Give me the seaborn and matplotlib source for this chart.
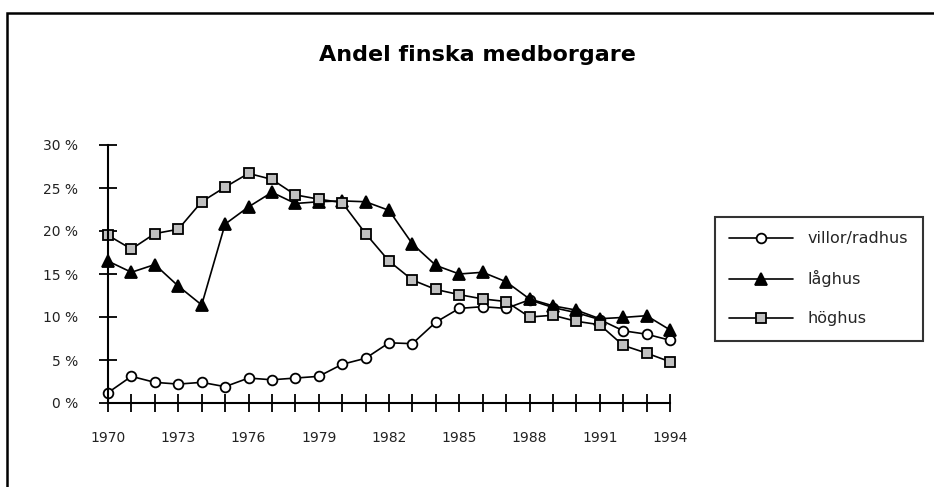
import matplotlib
matplotlib.use('AGG')
import matplotlib.pyplot as plt
import seaborn as sns
import pandas as pd
from matplotlib.patches import Rectangle

# values (percent)
years = list(range(1970, 1995))
villor = [1.2, 3.1, 2.4, 2.2, 2.4, 1.9, 2.9, 2.7, 2.9, 3.1, 4.5, 5.2, 7.0,
          6.9, 9.4, 11.0, 11.2, 11.0, 12.0, 11.1, 10.5, 9.7, 8.4, 8.0, 7.3]
laghus = [16.5, 15.2, 16.1, 13.6, 11.4, 20.8, 22.8, 24.5, 23.2, 23.4, 23.5, 23.4, 22.4,
          18.5, 16.0, 15.0, 15.2, 14.1, 12.1, 11.3, 10.8, 9.8, 9.95, 10.15, 8.5]
hoghus = [19.5, 17.9, 19.7, 20.2, 23.4, 25.1, 26.7, 26.0, 24.2, 23.7, 23.3, 19.7, 16.5,
          14.3, 13.2, 12.6, 12.1, 11.8, 10.0, 10.2, 9.5, 9.1, 6.7, 5.8, 4.8]
series_names = ['villor/radhus', 'låghus', 'höghus']
y_ticks = [0, 5, 10, 15, 20, 25, 30]
x_label_years = list(range(1970, 1995, 3))

df = pd.DataFrame({'year': years, 'villor/radhus': villor,
                   'låghus': laghus, 'höghus': hoghus})

sns.set_style('white')
plt.rcParams['font.family'] = ['DejaVu Sans']

W, H = 934, 487
fig = plt.figure(figsize=(W / 100, H / 100), dpi=100)
ax = fig.add_axes([108 / W, 1 - 403 / H, (670 - 108) / W, (403 - 145) / H])

styles = {
    'villor/radhus': dict(marker='o', markerfacecolor='white', markersize=7),
    'låghus': dict(marker='^', markerfacecolor='black', markersize=8),
    'höghus': dict(marker='s', markerfacecolor='#c0c0c0', markersize=7.5),
}
for name in series_names:
    sns.lineplot(data=df, x='year', y=name, ax=ax, color='black', linewidth=1.2,
                 markeredgecolor='black', markeredgewidth=1.3, clip_on=False,
                 label=name, **styles[name])

ax.set_xlim(1970, 1994)
ax.set_ylim(0, 30)
ax.set_xlabel('')
ax.set_ylabel('')
ax.set_xticks(years)
ax.set_xticklabels([str(y) if y in x_label_years else '' for y in years])
ax.set_yticks(y_ticks)
ax.set_yticklabels([f'{v} %' for v in y_ticks])
ax.tick_params(axis='both', direction='inout', length=12.5, width=1.3,
               color='black', labelsize=10, labelcolor='#222222',
               bottom=True, left=True)
ax.tick_params(axis='x', pad=14)
ax.tick_params(axis='y', pad=15)
for s in ['top', 'right']:
    ax.spines[s].set_visible(False)
for s in ['left', 'bottom']:
    ax.spines[s].set_color('black')
    ax.spines[s].set_linewidth(1.5)

leg = ax.legend(loc='upper left', bbox_to_anchor=(715 / W, 1 - 217 / H),
                bbox_transform=fig.transFigure, frameon=True, fancybox=False,
                shadow=False, fontsize=11.5, handlelength=4.0, handletextpad=0.9,
                labelspacing=1.5, borderpad=0.9, borderaxespad=0)
leg.get_frame().set_edgecolor('black')
leg.get_frame().set_linewidth(1.5)

fig.text(477 / W, 1 - 55 / H, 'Andel finska medborgare', ha='center', va='center',
         fontsize=16, fontweight='bold', color='black')

# outer frame (top and left edges visible)
fig.patches.append(Rectangle((7 / W, -0.1), 1.2, 1.1 - 13 / H, transform=fig.transFigure,
                             fill=False, edgecolor='black', linewidth=1.8))

fig.savefig('out.png', dpi=100)
